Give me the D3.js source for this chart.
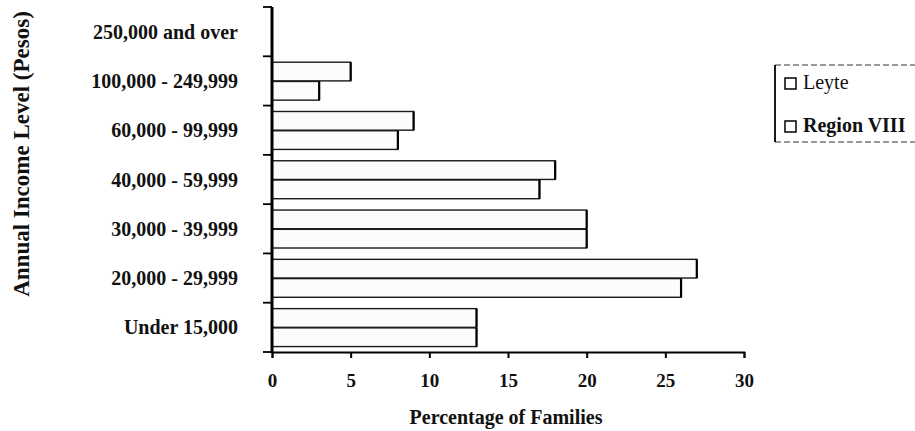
<!DOCTYPE html>
<html><head><meta charset="utf-8">
<script src="https://cdn.jsdelivr.net/npm/d3@7"></script>
<style>body{margin:0;background:#fff}svg{display:block}text{font-family:"Liberation Serif","Times New Roman",serif;fill:#111}</style>
</head><body><svg id="c" width="915" height="431"></svg>
<script>
const categories = ["250,000 and over","100,000 - 249,999","60,000 - 99,999","40,000 - 59,999","30,000 - 39,999","20,000 - 29,999","Under 15,000"];
const series = ["Leyte","Region VIII"];
const leyte = [0,5,9,18,20,27,13];
const region8 = [0,3,8,17,20,26,13];
const xTicks = [0,5,10,15,20,25,30];
const xTitle = "Percentage of Families";
const yTitle = "Annual Income Level (Pesos)";

const svg = d3.select("#c");
const x = d3.scaleLinear().domain([0,30]).range([272,744]);
const y = d3.scaleBand().domain(categories).range([7,352]);
const sub = d3.scaleBand().domain(series).range([y.bandwidth()*0.12, y.bandwidth()*0.89]).paddingInner(0.03);

const data = [];
categories.forEach((c,i)=>{ data.push({c,s:"Leyte",v:leyte[i]}); data.push({c,s:"Region VIII",v:region8[i]}); });

// bars
svg.append("g").selectAll("rect").data(data.filter(d=>d.v>0)).join("rect")
  .attr("x", x(0)).attr("y", d=>y(d.c)+sub(d.s))
  .attr("width", d=>x(d.v)-x(0)).attr("height", sub.bandwidth())
  .attr("fill","#fcfcfc").attr("stroke","#1a1a1a").attr("stroke-width",1.4);
// thicker bar ends
svg.append("g").selectAll("line").data(data.filter(d=>d.v>0)).join("line")
  .attr("x1", d=>x(d.v)).attr("x2", d=>x(d.v))
  .attr("y1", d=>y(d.c)+sub(d.s)).attr("y2", d=>y(d.c)+sub(d.s)+sub.bandwidth())
  .attr("stroke","#000").attr("stroke-width",2.2);

// x axis
const xa = svg.append("g").attr("transform","translate(0,352)")
  .call(d3.axisBottom(x).tickValues(xTicks).tickSize(6).tickPadding(16).tickFormat(d3.format("d")));
xa.select(".domain").attr("stroke","#000").attr("stroke-width",1.8);
xa.selectAll(".tick line").attr("stroke","#000").attr("stroke-width",2);
xa.selectAll(".tick text").attr("font-size","19px").attr("font-weight","bold").attr("font-family","Liberation Serif").attr("fill","#111");

// y axis
const yBounds = categories.map(c=>y(c)).concat([y.range()[1]]);
svg.append("line").attr("x1",272).attr("x2",272).attr("y1",y.range()[0]).attr("y2",y.range()[1]+1)
  .attr("stroke","#000").attr("stroke-width",3);
svg.append("g").selectAll("line").data(yBounds).join("line")
  .attr("x1",263).attr("x2",272).attr("y1",d=>d).attr("y2",d=>d)
  .attr("stroke","#000").attr("stroke-width",1.8);
svg.append("g").selectAll("text").data(categories).join("text")
  .attr("x",238).attr("y",d=>y(d)+y.bandwidth()/2+7)
  .attr("text-anchor","end").attr("font-size","20px").attr("font-weight","bold")
  .text(d=>d);

// titles
svg.append("text").attr("x",506).attr("y",424).attr("text-anchor","middle")
  .attr("font-size","20px").attr("font-weight","bold").text(xTitle);
svg.append("text").attr("transform","translate(29,154) rotate(-90)").attr("text-anchor","middle")
  .attr("font-size","23px").attr("font-weight","bold").text(yTitle);

// legend
const lg = svg.append("g");
lg.append("line").attr("x1",775).attr("x2",915).attr("y1",65).attr("y2",65).attr("stroke","#333").attr("stroke-width",1).attr("stroke-dasharray","6,3");
lg.append("line").attr("x1",775).attr("x2",915).attr("y1",142).attr("y2",142).attr("stroke","#333").attr("stroke-width",1).attr("stroke-dasharray","6,3");
lg.append("line").attr("x1",775).attr("x2",775).attr("y1",65).attr("y2",142).attr("stroke","#000").attr("stroke-width",1.8);
const ly = d3.scaleOrdinal().domain(series).range([89,132]);
lg.selectAll("rect").data(series).join("rect")
  .attr("x",785).attr("y",d=>ly(d)-11).attr("width",11).attr("height",11)
  .attr("fill","#fff").attr("stroke","#000").attr("stroke-width",1.5);
lg.selectAll("text").data(series).join("text")
  .attr("x",803).attr("y",d=>ly(d)).attr("font-size","20px")
  .attr("font-weight",d=>d==="Leyte"?"normal":"bold").text(d=>d);
</script></body></html>
